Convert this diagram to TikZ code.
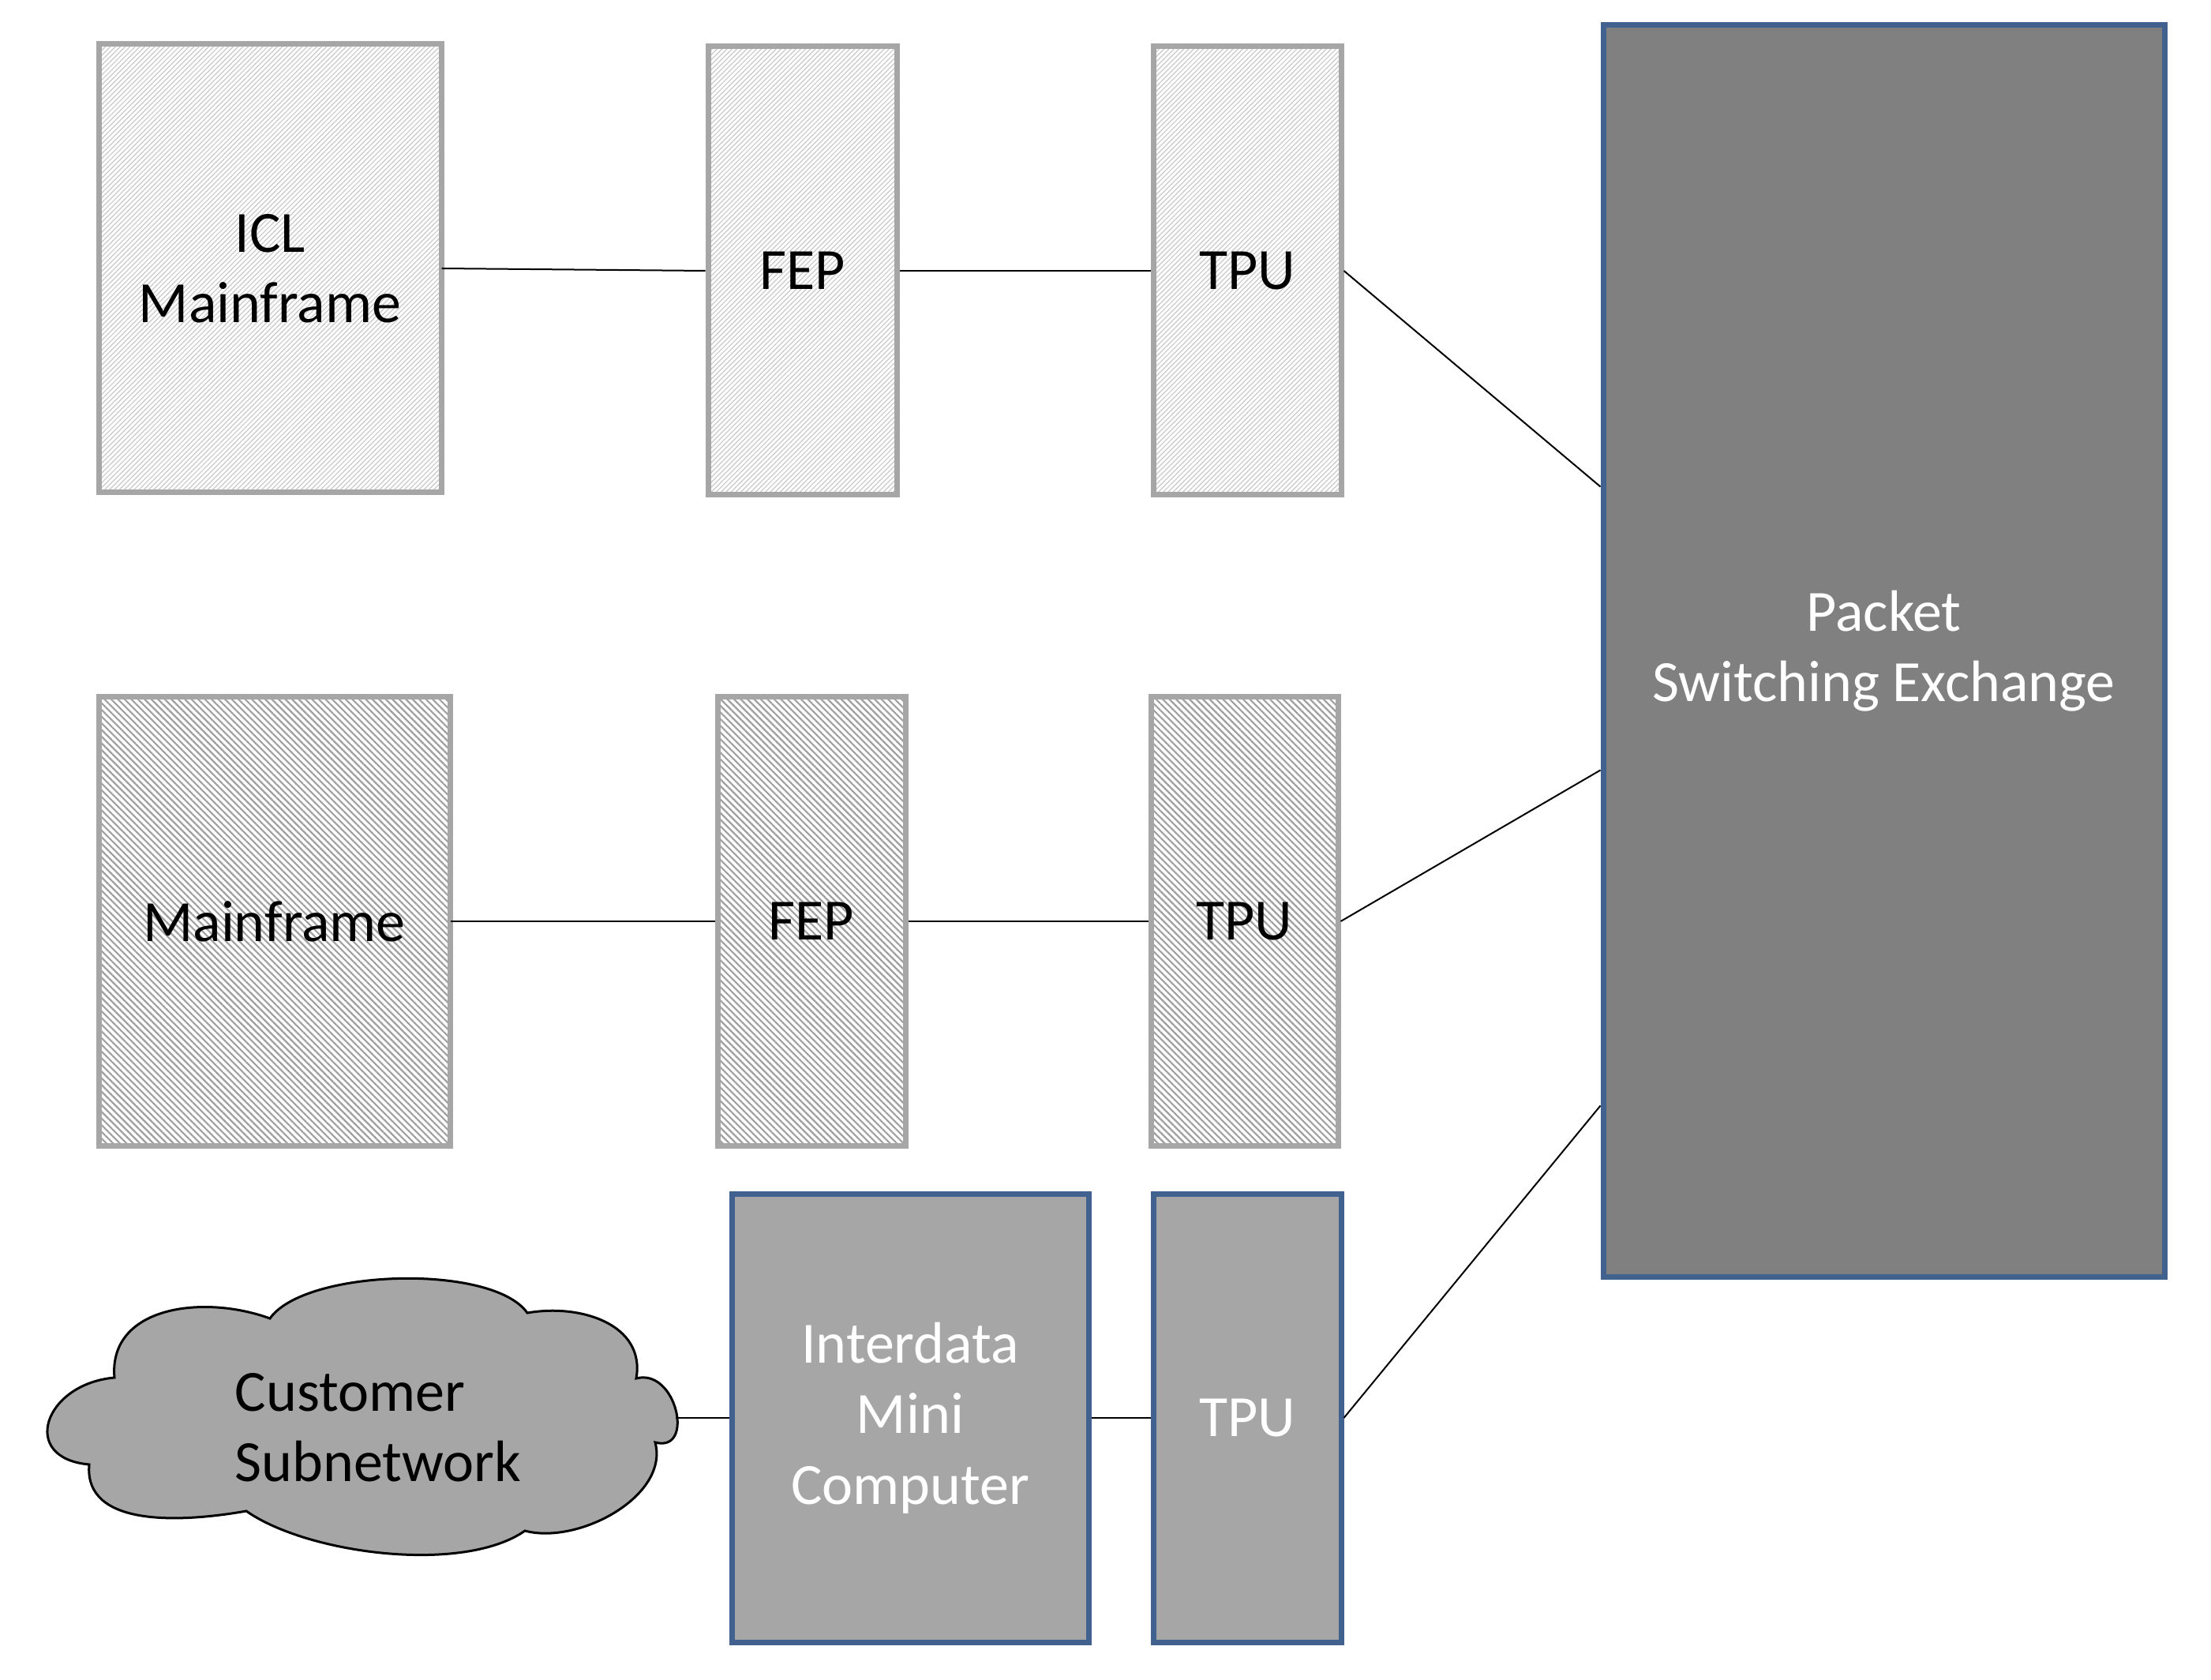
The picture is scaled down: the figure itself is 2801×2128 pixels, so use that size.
\documentclass[tikz,border=0pt]{standalone}
\usepackage{fontspec}
\setmainfont{Carlito}
\usetikzlibrary{patterns.meta,calc}
\definecolor{boxgray}{HTML}{A6A6A6}
\definecolor{psegray}{HTML}{808080}
\definecolor{edgeblue}{HTML}{41618F}
\definecolor{hatchlight}{HTML}{C8C8C8}
\definecolor{hatchdark}{HTML}{A0A0A0}
\tikzset{
  lbl/.style={font=\fontsize{37pt}{44.7pt}\selectfont, align=center},
  lightbox/.style={lbl, draw=boxgray, line width=3.5pt, minimum height=284pt,
    pattern={Lines[angle=45,distance=2.2pt,line width=0.6pt]}, pattern color=hatchlight},
  darkbox/.style={lbl, draw=boxgray, line width=3.5pt, minimum height=284pt,
    pattern={Lines[angle=-45,distance=3pt,line width=1.1pt]}, pattern color=hatchdark},
  bluebox/.style={lbl, draw=edgeblue, line width=3.5pt, fill=boxgray, text=white},
  cloudline/.style={draw=black, line width=1.5pt, fill=boxgray, line join=miter},
  link/.style={draw=black, line width=1pt}
}
\begin{document}
\begin{tikzpicture}[x=0.5pt,y=-0.5pt]
\useasboundingbox (0,0) rectangle (2801,2128);
% row 1
\node[lightbox, minimum width=217pt] (icl) at (342,340) {ICL\\Mainframe};
\node[lightbox, minimum width=119.5pt] (fepA) at (1016.5,343) {FEP};
\node[lightbox, minimum width=119pt] (tpuA) at (1580,343) {TPU};
% row 2
\node[darkbox, minimum width=222.5pt] (mf) at (347.5,1167) {Mainframe};
\node[darkbox, minimum width=119pt] (fepB) at (1028,1167) {FEP};
\node[darkbox, minimum width=118.5pt] (tpuB) at (1576.5,1167) {TPU};
% row 3
\node[bluebox, minimum width=226pt, minimum height=284pt] (inter) at (1153,1796) {Interdata\\Mini\\Computer};
\node[bluebox, minimum width=119pt, minimum height=284pt] (tpuC) at (1580,1796) {TPU};
% cloud (drawn in a y-up frame, same unit)
\begin{scope}[x=0.5pt,y=0.5pt]
\draw[cloudline] (145,-1745)
  to[out=95,in=160,looseness=1.1] (342,-1670)
  to[out=55,in=125,looseness=0.6] (668,-1663)
  to[out=10,in=80,looseness=1.1] (806,-1746)
  to[out=15,in=-15,looseness=1.6] (830,-1827)
  to[out=-75,in=-15,looseness=0.9] (665,-1939)
  to[out=-145,in=-35,looseness=0.69] (312,-1914)
  to[out=190,in=-95,looseness=1] (113,-1855)
  to[out=175,in=185,looseness=2] (145,-1745) -- cycle;
\end{scope}
\coordinate (cloudE) at (856,1796);
\node[lbl, align=left] (cloudtext) at (479,1808) {Customer\\Subnetwork};
% exchange
\node[bluebox, fill=psegray, minimum width=355.5pt, minimum height=792.5pt] (pse) at (2386.5,824.5) {Packet\\Switching Exchange};
\coordinate (pA) at ($(pse.north west)+(0,588)$);
\coordinate (pB) at ($(pse.north west)+(0,947)$);
\coordinate (pC) at ($(pse.north west)+(0,1372)$);
% connectors
\draw[link] (icl.east) -- (fepA.west);
\draw[link] (fepA.east) -- (tpuA.west);
\draw[link] (tpuA.east) -- (pA);
\draw[link] (mf.east) -- (fepB.west);
\draw[link] (fepB.east) -- (tpuB.west);
\draw[link] (tpuB.east) -- (pB);
\draw[link] (cloudE) -- (inter.west);
\draw[link] (inter.east) -- (tpuC.west);
\draw[link] (tpuC.east) -- (pC);
\end{tikzpicture}
\end{document}
